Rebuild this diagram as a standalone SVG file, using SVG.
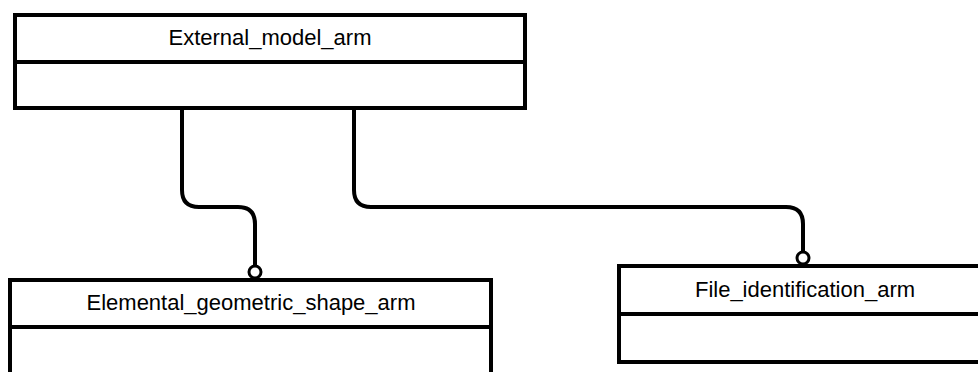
<svg xmlns="http://www.w3.org/2000/svg" width="978" height="372" viewBox="0 0 978 372">
<style>
.box{fill:#fff;stroke:#000;stroke-width:4}
.div{stroke:#000;stroke-width:4}
.lbl{font-family:"Liberation Sans",Arial,sans-serif;font-size:22px;fill:#000;text-anchor:middle}
.con{fill:none;stroke:#000;stroke-width:4}
.end{fill:#fff;stroke:#000;stroke-width:3}
</style>
<rect width="978" height="372" fill="#fff"/>
<g id="connectors">
<path class="con" d="M182,108 V190 Q182,207 199,207 H238 Q255,207 255,224 V266"/>
<circle class="end" cx="255" cy="272" r="6"/>
<path class="con" d="M354,108 V190 Q354,207 371,207 H786 Q803,207 803,224 V252"/>
<circle class="end" cx="803" cy="258" r="6"/>
</g>
<g id="External_model_arm">
<rect class="box" x="15" y="15" width="510" height="93"/>
<line class="div" x1="15" y1="62" x2="525" y2="62"/>
<text class="lbl" x="270" y="45">External_model_arm</text>
</g>
<g id="Elemental_geometric_shape_arm">
<rect class="box" x="10" y="280" width="481" height="110"/>
<line class="div" x1="10" y1="327" x2="491" y2="327"/>
<text class="lbl" x="251" y="310">Elemental_geometric_shape_arm</text>
</g>
<g id="File_identification_arm">
<rect class="box" x="619" y="266" width="372" height="96"/>
<line class="div" x1="619" y1="314" x2="991" y2="314"/>
<text class="lbl" x="805" y="297">File_identification_arm</text>
</g>
</svg>
